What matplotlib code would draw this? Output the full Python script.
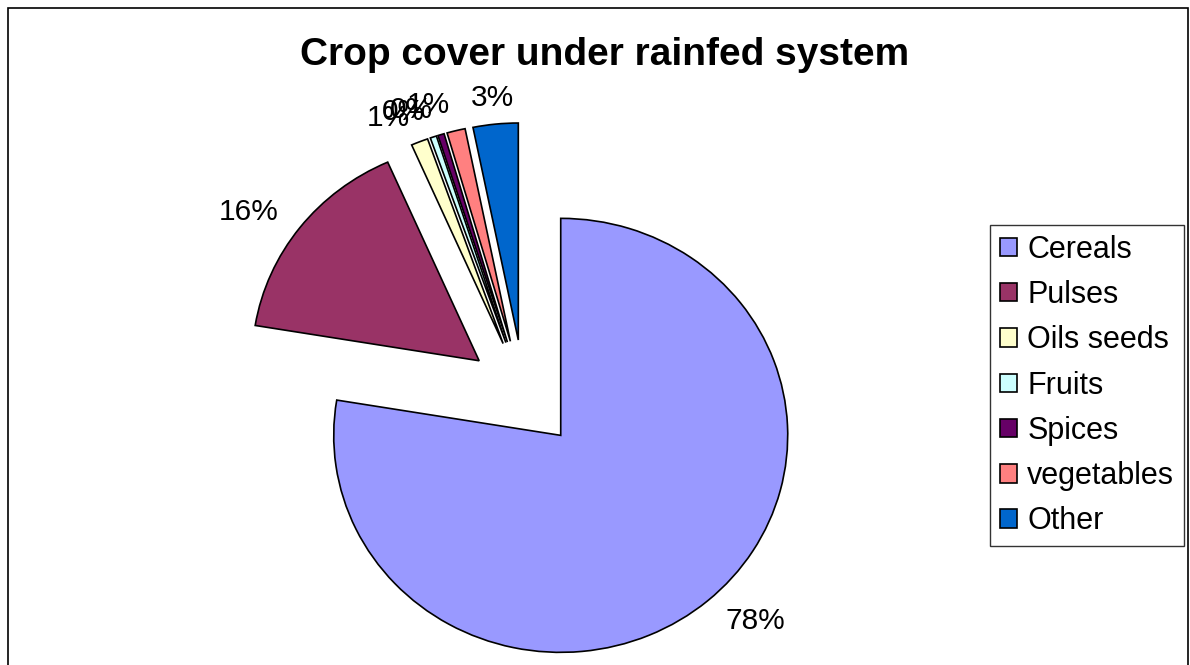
import numpy as np
import matplotlib.pyplot as plt
from matplotlib.patches import Rectangle

plt.rcParams['font.family'] = ['Liberation Sans', 'DejaVu Sans']

# crop cover shares (%)
crops = ['Cereals', 'Pulses', 'Oils seeds', 'Fruits', 'Spices', 'vegetables', 'Other']
shares = [77.6, 15.8, 1.2, 0.45, 0.45, 1.3, 3.2]
colors = ['#9999FF', '#993366', '#FFFFCC', '#CCFFFF', '#660066', '#FF8080', '#0066CC']
explode = [0.25] * len(shares)

W, H = 1190, 665
fig = plt.figure(figsize=(W / 100, H / 100), dpi=100)

# axes over whole figure; the original is slightly stretched sideways
sx, sy = 227, 217          # px per unit radius
cx, cy = 524, 394          # pie centre, px from top-left
ax = fig.add_axes([0, 0, 1, 1])
ax.axis('off')

wedges, texts = ax.pie(shares, colors=colors, explode=explode, startangle=90,
                       counterclock=False, labels=['%d%%' % round(s) for s in shares],
                       labeldistance=1.12,
                       wedgeprops=dict(edgecolor='black', linewidth=1.2),
                       textprops=dict(fontsize=21.5))
ax.set_aspect('auto')
ax.set_xlim(-cx / sx, (W - cx) / sx)
ax.set_ylim(-(H - cy) / sy, cy / sy)

# label alignment like the spreadsheet: outward edge, centred near the top
for t, wd in zip(texts, wedges):
    ang = np.deg2rad((wd.theta1 + wd.theta2) / 2)
    dx = np.cos(ang)
    t.set_va('center')
    if abs(dx) < 0.2:
        t.set_ha('center')
    elif dx > 0:
        t.set_ha('left')
    else:
        t.set_ha('right')

# title
fig.text(605 / W, 1 - 55 / H, 'Crop cover under rainfed system', ha='center', va='center',
         fontsize=28, fontweight='bold')

# legend
leg = fig.legend(wedges, crops, loc='upper left', bbox_to_anchor=(990 / W, 1 - 225 / H),
                 borderaxespad=0, fontsize=22, frameon=True, fancybox=False,
                 handlelength=0.55, handleheight=0.55, handletextpad=0.35,
                 labelspacing=0.5, borderpad=0.32)
leg.get_frame().set_edgecolor('black')
leg.get_frame().set_linewidth(1.0)

# outer chart frame
fig.patches.append(Rectangle((8 / W, -0.1), (W - 10) / W, 1.1 - 8 / H, transform=fig.transFigure,
                             fill=False, edgecolor='black', linewidth=1.2))

fig.savefig('out.png', dpi=100)
